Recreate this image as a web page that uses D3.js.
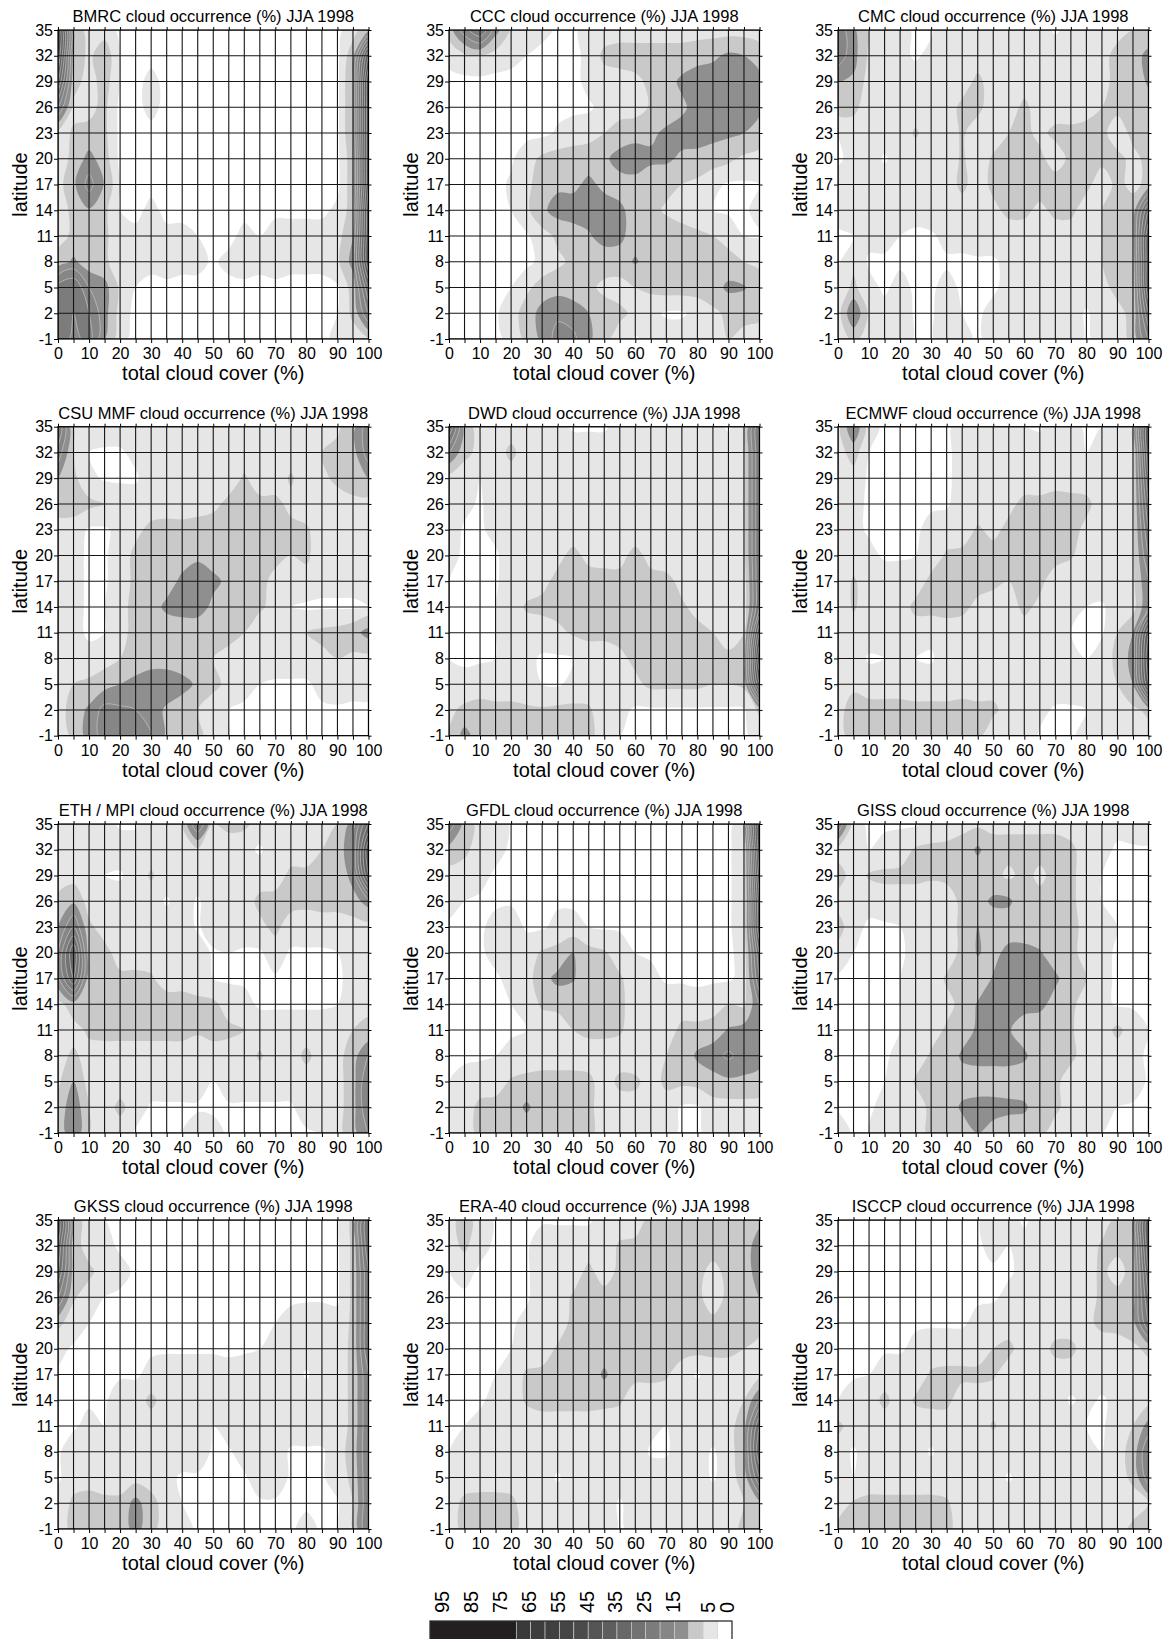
<!DOCTYPE html>
<html>
<head>
<meta charset="utf-8">
<script src="https://cdnjs.cloudflare.com/ajax/libs/d3/7.8.5/d3.min.js"></script>
<style>
body { margin: 0; background: #fff; }
</style>
</head>
<body>
<script>
//Grid of the histograms: total cloud cover (x) and latitude (y, top row first)
var cloudCover = [0, 5, 10, 15, 20, 25, 30, 35, 40, 45, 50, 55, 60, 65, 70, 75, 80, 85, 90, 95, 100];
var latitudes = [35, 32, 29, 26, 23, 20, 17, 14, 11, 8, 5, 2, -1];
var xTickLabels = [0, 10, 20, 30, 40, 50, 60, 70, 80, 90, 100];

var models = ["BMRC", "CCC", "CMC", "CSU MMF", "DWD", "ECMWF", "ETH / MPI", "GFDL", "GISS", "GKSS", "ERA-40", "ISCCP"];

//Contour levels (%) and the shade used above each of them
var levels = [1, 5, 10, 15, 20, 25, 30, 35, 40, 45, 50, 55, 60, 65, 70];
var levelColors = ["#ffffff", "#e6e6e6", "#c9c9c9", "#8f8f8f", "#868686", "#7c7c7c", "#727272", "#686868",
	"#5e5e5e", "#555555", "#4b4b4b", "#454545", "#404040", "#3d3d3d", "#3a3a3a", "#231f20"];
var barLabels = [95, 85, 75, 65, 55, 45, 35, 25, 15, 5, 0];

//Cloud occurrence (%), rows from 35 down to -1
var bmrc = [
	[45, 8, 3, 3, 0, 0, 0, 0, 0, 0, 0, 0, 0, 0, 0, 0, 0, 0, 0, 3, 8],
	[45, 8, 4, 8, 1, 0, 0, 0, 0, 0, 0, 0, 0, 0, 0, 0, 0, 0, 0, 8, 40],
	[35, 7, 3, 7, 1, 0, 2, 0, 0, 0, 0, 0, 0, 0, 0, 0, 0, 0, 0, 10, 50],
	[20, 4, 4, 6, 0, 0, 2, 0, 0, 0, 0, 0, 0, 0, 0, 0, 0, 0, 0, 10, 50],
	[3, 5.5, 6, 6, 0, 0, 0, 0, 0, 0, 0, 0, 0, 0, 0, 0, 0, 0, 0, 10, 50],
	[3, 6, 12, 7, 0, 0, 0, 0, 0, 0, 0, 0, 0, 0, 0, 0, 0, 0, 0, 8, 50],
	[3, 9, 17, 9.5, 1, 0, 0, 0, 0, 0, 0, 0, 0, 0, 0, 0, 0, 0, 0, 8, 50],
	[3, 6, 9.5, 6, 1, 0, 2, 0, 0, 0, 0, 0, 0, 0, 0, 0, 0, 0, 2, 7, 45],
	[3, 6, 7, 6, 2, 2, 3, 2, 2, 1, 0, 0, 2, 1, 3, 3, 3, 3, 3, 10, 45],
	[7, 11, 7, 6, 2, 1, 2, 3, 2, 2, 0.5, 2, 3, 2, 3, 2, 2, 2, 4, 12, 45],
	[22, 25, 15, 12, 4, 1, 0, 0, 0, 0, 0, 0, 0, 0, 0, 0, 0, 0, 0.5, 7, 30],
	[25, 20, 20, 12, 3, 0, 0, 0, 0, 0, 0, 0, 0, 0, 0, 0, 0, 0, 1, 6, 20],
	[25, 18, 22, 10, 2, 0, 0, 0, 0, 0, 0, 0, 0, 0, 0, 0, 0, 0, 2, 3, 4]
];
var ccc = [
	[7, 18, 25, 12, 4, 2, 2, 0.5, 0.5, 2, 3, 3, 3, 3, 3, 3, 3, 3, 3, 3, 3],
	[2, 4, 5, 3, 2, 1, 0, 0, 0, 2, 6, 7, 7, 7, 7, 7, 8, 9, 11, 10, 7],
	[0, 0, 0, 0, 0, 0, 0, 0, 0, 2, 3, 3, 4, 6, 8, 11, 13, 13, 13, 13, 12],
	[0, 0, 0, 0, 0, 0, 0, 0, 0, 0.5, 2, 3, 3, 5.5, 7, 9, 12, 13, 12, 12, 11],
	[0, 0, 0, 0, 0, 0, 0, 1.5, 3, 3, 5, 7, 8, 9, 11, 12, 13, 12, 11, 10, 8],
	[0, 0, 0, 0, 0.5, 3, 6, 7, 7, 8, 9, 12, 13, 11, 11, 9, 8, 7, 6, 4, 3],
	[0, 0, 0, 0, 1.5, 4, 7, 9, 9, 11, 9, 8, 8, 7, 6, 5, 4, 2, 0.5, 0.5, 1],
	[0, 0, 0, 0, 1, 4, 9, 12, 12, 12, 12, 11, 8, 6, 4.5, 3, 2, 1, 0.5, 0.5, 2],
	[0, 0, 0, 0, 0, 0.5, 3, 6, 8, 9.5, 12, 11, 8, 7, 7, 7, 6, 5, 3, 1, 0.5],
	[0, 0, 0, 0, 0, 0, 2, 4, 6, 7, 7, 8, 10.5, 8, 8, 8, 8, 8, 7, 5, 4],
	[0, 0, 0, 0, 1, 4, 7, 8, 7, 6, 4, 3, 5, 6, 7, 7, 7, 8, 11, 10.5, 7],
	[0, 0, 0, 0.5, 3, 7, 12, 14, 13, 10, 7, 6, 4, 2, 0.5, 0.5, 2, 4, 6, 6, 6],
	[0, 0, 0, 0, 2, 6, 11, 17, 16, 11, 6, 3, 0.5, 2, 3, 3, 3, 4, 5, 4, 3]
];
var cmc = [
	[18, 11, 4, 3, 2, 0.5, 0.5, 3, 3, 2, 2, 3, 3, 2, 0.5, 2, 3, 3, 4, 5, 5],
	[18, 12, 4, 3, 2, 0.5, 2, 3, 3, 3, 2.5, 3, 3, 3, 3, 3, 3, 4, 6, 7, 12],
	[10, 9, 3, 3, 3, 3, 3, 3, 3, 6, 3, 3, 3, 3, 3, 3, 3, 4, 6, 6, 11],
	[7, 6, 3, 3, 3, 3, 3, 3, 6, 6, 3, 3, 6, 3, 3, 3, 4, 5, 6, 6, 7],
	[1, 3, 3, 3, 3, 5.5, 3, 3, 5.5, 3, 3, 5, 6, 4, 6, 6, 6, 6, 3, 6, 7],
	[0.5, 2, 3, 0.5, 3, 3, 3, 3, 5.5, 3, 5.5, 6, 6, 6, 3, 6, 6, 6, 6, 4, 6],
	[2, 3, 3, 3, 3, 3, 3, 3, 6, 3, 6, 7, 7, 7, 7, 6, 6, 3, 6, 4, 6],
	[2, 3, 3, 2, 3, 2, 3, 3, 3, 3, 4, 6, 6, 4, 6, 6, 3, 5, 6, 7, 30],
	[0.5, 1, 2, 2, 1, 0.5, 0.5, 2, 2, 3, 3, 3, 3, 3, 3, 3, 3, 5, 6, 8, 40],
	[0.5, 4, 0.5, 0.5, 0.5, 0.5, 0.5, 0.5, 0.5, 0.5, 0.5, 2, 3, 3, 3, 3, 3, 5, 6, 7, 40],
	[2, 6, 2, 0.5, 2, 0.5, 0.5, 2, 0.5, 0.5, 0.5, 2, 3, 3, 3, 3, 3, 4, 6, 6, 40],
	[3, 15, 4, 2, 3, 0.5, 0.5, 3, 1, 0.5, 2, 3, 3, 3, 3, 3, 0.5, 3, 4, 6, 30],
	[2, 6, 3, 2, 3, 0.5, 0.5, 3, 2, 0.5, 2, 3, 3, 3, 3, 3, 0.5, 2, 3, 6, 20]
];
var csu = [
	[25, 4, 3, 3, 3, 3, 1, 3, 3, 3, 3, 3, 3, 3, 3, 3, 3, 3, 4, 8, 18],
	[18, 5, 1, 0.5, 0.5, 2, 3, 3, 3, 3, 3, 3, 3, 3, 3, 3, 3, 5, 6.5, 8, 18],
	[10, 6, 2, 0.5, 0.5, 0.5, 3, 3, 3, 3, 1, 3, 5.5, 3, 3, 5.5, 3, 4, 6, 7, 10],
	[7, 7, 6, 5, 3, 3, 3, 3, 2, 3, 4, 6, 6, 6, 6, 4, 3, 3, 3, 4, 3],
	[3, 3, 0.5, 0.5, 2, 4, 6, 6.5, 7, 7, 7, 7, 7, 6.5, 6.5, 6, 5.5, 3, 3, 3, 3],
	[3, 2, 0.5, 0.5, 3, 6, 7, 7, 8, 9, 8, 7, 7, 6, 6, 5, 6, 2, 1, 1, 2],
	[3, 2, 0.5, 0.5, 3, 6, 7, 8, 11, 13, 11, 9, 7, 6, 4, 3, 3, 2, 2, 2, 3],
	[3, 2, 0.5, 1, 4, 6, 8, 11, 12, 12, 9, 7, 6, 5.5, 4, 1, 0.5, 0.5, 0.5, 0.5, 1],
	[3, 2, 0.5, 1, 4, 6, 7, 7, 7, 7, 6.5, 6, 5, 3, 3, 4, 5, 6, 6.5, 8, 12],
	[3, 3, 2, 3, 5, 6, 7, 7, 6.5, 6, 5, 4, 3, 3, 3, 3, 3, 4, 5, 4, 3],
	[3, 5, 6, 8, 10, 12, 14, 14, 12, 9, 6, 4, 2, 1, 0.5, 0.5, 0.5, 2, 3, 2, 2],
	[3, 7, 11, 17, 16, 15, 13, 9, 7, 5, 3, 1, 0.5, 0.5, 0.5, 0.5, 0.5, 0.5, 0.5, 0.5, 0.5],
	[2, 6, 12, 17, 18, 17, 15, 9, 7, 6, 3, 1, 0.5, 0.5, 0.5, 0.5, 0.5, 0.5, 0.5, 0.5, 0.5]
];
var dwd = [
	[30, 7, 3, 3, 3, 3, 3, 2, 0.5, 0.5, 0.5, 2, 3, 3, 3, 3, 3, 2, 0.5, 3, 25],
	[15, 7, 3, 3, 6, 3, 3, 3, 3, 3, 3, 3, 3, 3, 3, 3, 3, 3, 3, 4, 25],
	[3, 1, 1, 3, 3, 3, 3, 3, 3, 3, 3, 3, 3, 3, 3, 3, 3, 3, 3, 4, 25],
	[3, 2, 0.5, 3, 3, 3, 3, 3, 3, 3, 3, 3, 3, 3, 3, 3, 3, 3, 3, 4, 25],
	[3, 0.5, 0.5, 2, 3, 3, 3, 3, 3, 3, 3, 3, 3, 3, 3, 3, 3, 3, 3, 4, 25],
	[2, 0.5, 0.5, 0.5, 3, 3, 3, 4, 6, 4, 4, 4, 6, 4, 3, 3, 3, 3, 3, 4, 25],
	[1, 0.5, 0.5, 0.5, 3, 3, 4, 6, 6.5, 6.5, 6, 6, 6.5, 6, 6, 4, 3, 3, 1, 2, 25],
	[1, 0.5, 0.5, 1, 3, 5.5, 6, 6.5, 7, 7, 7, 7, 7, 6.5, 6, 5.5, 4, 3, 1, 2, 25],
	[1, 0.5, 0.5, 1, 3, 3, 3, 4, 5.5, 6, 6, 6.5, 7, 7, 7, 6.5, 6, 5, 3, 5, 40],
	[1, 0.5, 0.5, 1, 3, 2, 0.5, 0.5, 1, 3, 3, 4, 6, 6.5, 7, 7, 7, 6.5, 6, 7, 50],
	[2, 2, 3, 3, 3, 3, 1, 0.5, 2, 3, 3, 3, 4, 6, 6, 6, 6, 5, 5, 6, 40],
	[4, 6, 6.5, 6, 6, 5.5, 5.5, 6, 6, 5.5, 3, 2, 0.5, 0.5, 0.5, 0.5, 0.5, 0.5, 0.5, 0.5, 6],
	[5, 12, 7, 6.5, 6.5, 6.5, 6.5, 6.5, 6.5, 6, 3, 1, 0.5, 0.5, 0.5, 0.5, 0.5, 0.5, 0.5, 0.5, 2]
];
var ecmwf = [
	[3, 15, 2, 0.5, 0.5, 0.5, 0.5, 0.5, 2, 3, 3, 3, 1, 0.5, 3, 2, 0.5, 1, 3, 4, 40],
	[3, 7, 1, 0.5, 0.5, 0.5, 0.5, 0.5, 2, 3, 3, 3, 3, 3, 2, 1, 1, 2, 3, 4, 40],
	[2, 3, 0.5, 0.5, 0.5, 0.5, 0.5, 0.5, 2, 1, 3, 3, 3, 3, 3, 3, 3, 3, 3, 4, 35],
	[2, 2, 0.5, 0.5, 0.5, 0.5, 0.5, 0.5, 3, 3, 3, 4, 6, 6, 7, 6.5, 6, 3, 3, 4, 30],
	[2, 2, 0.5, 0.5, 0.5, 0.5, 2, 3, 3, 5.5, 4, 6, 6.5, 6.5, 6.5, 6.5, 4, 3, 3, 4, 25],
	[2, 3, 2, 0.5, 0.5, 1, 3, 5.5, 6, 6.5, 6.5, 6.5, 6, 6, 6.5, 5.5, 3, 3, 3, 4, 20],
	[2, 5.5, 3, 3, 3, 3, 6, 6.5, 6.5, 6.5, 6, 5, 6, 6, 3, 2, 3, 3, 3, 4, 15],
	[2, 5.5, 3, 3, 3, 6, 6.5, 6.5, 6, 4, 3, 3, 6, 4, 3, 3, 1, 0.5, 3, 3, 15],
	[2, 3, 3, 3, 3, 3, 2, 3, 3, 3, 3, 3, 3, 3, 3, 1, 0.5, 0.5, 5, 10, 40],
	[2, 3, 0.5, 1, 3, 1, 0.5, 3, 3, 3, 3, 3, 3, 3, 3, 2, 1, 3, 6, 12, 45],
	[2, 3, 3, 3, 3, 3, 3, 3, 3, 3, 3, 3, 3, 3, 3, 3, 3, 3, 5, 10, 40],
	[2, 9, 6.5, 6.5, 6.5, 6, 6, 6, 6.5, 6, 6, 3, 3, 2, 0.5, 0.5, 1, 3, 3, 4, 6],
	[3, 7, 6.5, 6.5, 6.5, 6, 6, 6.5, 6.5, 6, 2, 4, 3, 0.5, 0.5, 0.5, 2, 3, 3, 3, 3]
];
var ethMpi = [
	[3, 3, 3, 2, 0.5, 0.5, 3, 3, 5, 20, 5, 6, 6, 3, 3, 3, 3, 3, 5, 12, 30],
	[3, 3, 3, 3, 3, 3, 3, 3, 3, 4, 3, 3, 2, 0.5, 3, 3, 3, 5, 6.5, 15, 45],
	[3, 3, 3, 1, 0.5, 3, 5.5, 3, 3, 3, 3, 3, 3, 3, 3, 6, 6, 6, 6, 12, 40],
	[6, 9, 3, 2, 3, 3, 3, 0.5, 3, 0.5, 3, 3, 3, 6, 6.5, 6.5, 6, 6.5, 6.5, 8, 12],
	[10, 20, 6, 3, 3, 3, 3, 3, 3, 0.5, 3, 3, 3, 4, 6, 3, 3, 3, 3, 3, 3],
	[15, 35, 7, 6.5, 3, 3, 3, 3, 3, 3, 0.5, 1, 0.5, 0.5, 3, 0.5, 0.5, 0.5, 1, 3, 3],
	[14, 30, 7, 6.5, 6, 6, 5.5, 3, 3, 3, 1, 0.5, 0.5, 0.5, 0.5, 0.5, 0.5, 0.5, 0.5, 2, 3],
	[3, 8, 6.5, 7, 6.5, 6.5, 6.5, 7, 7, 6, 6, 3, 2, 0.5, 0.5, 0.5, 0.5, 0.5, 1, 3, 4],
	[2, 3, 6, 6.5, 6.5, 6.5, 6.5, 6.5, 6.5, 5.5, 6.5, 6, 5, 3, 3, 3, 3, 3, 3, 5, 6],
	[3, 6, 3, 3, 3, 3, 3, 3, 3, 3, 3, 3, 3, 5.5, 3, 3, 6, 3, 3, 8, 15],
	[4, 10, 3, 3, 3, 3, 3, 3, 3, 3, 1, 3, 3, 3, 3, 3, 3, 3, 3, 8, 20],
	[6, 14, 5, 3, 6, 3, 0.5, 0.5, 0.5, 0.5, 0.5, 0.5, 0.5, 0.5, 0.5, 0.5, 3, 2, 3, 8, 20],
	[6, 14, 5, 3, 3, 0.5, 0.5, 0.5, 1, 3, 2, 0.5, 0.5, 0.5, 0.5, 0.5, 0.5, 1, 3, 8, 15]
];
var gfdl = [
	[18, 8, 3, 3, 0.5, 0.5, 0.5, 0.5, 0.5, 0.5, 0.5, 0.5, 0.5, 0.5, 0.5, 0.5, 0.5, 0.5, 0.5, 2, 50],
	[8, 6, 3, 2, 0.5, 0.5, 0.5, 0.5, 0.5, 0.5, 0.5, 0.5, 0.5, 0.5, 0.5, 0.5, 0.5, 0.5, 0.5, 3, 50],
	[3, 3, 2, 0.5, 0.5, 0.5, 0.5, 0.5, 0.5, 0.5, 0.5, 0.5, 0.5, 0.5, 0.5, 0.5, 0.5, 0.5, 0.5, 3, 45],
	[2, 1, 0.5, 0.5, 0.5, 0.5, 0.5, 0.5, 0.5, 0.5, 0.5, 0.5, 0.5, 0.5, 0.5, 0.5, 0.5, 0.5, 0.5, 3, 40],
	[0.5, 0.5, 0.5, 2, 3, 0.5, 0.5, 2, 2, 1, 0.5, 0.5, 0.5, 0.5, 0.5, 0.5, 0.5, 0.5, 0.5, 3, 40],
	[0.5, 0.5, 0.5, 2, 3, 3, 5.5, 6.5, 10, 6.5, 5.5, 3, 1, 0.5, 0.5, 0.5, 0.5, 0.5, 0.5, 2, 30],
	[0.5, 0.5, 0.5, 0.5, 2, 3, 8, 11.5, 10.5, 6.5, 6, 5.5, 3, 2, 0.5, 0.5, 0.5, 0.5, 0.5, 2, 25],
	[0.5, 0.5, 0.5, 0.5, 1, 3, 5.5, 6, 6.5, 6.5, 6.5, 6, 3, 3, 3, 3, 2, 3, 5, 4, 15],
	[0.5, 0.5, 0.5, 0.5, 0.5, 1, 3, 3, 5, 6, 6, 5.5, 3, 3, 3, 6, 6.5, 7, 10.5, 12, 12],
	[0.5, 0.5, 0.5, 1, 2, 3, 3, 3, 3, 3, 3, 3, 2, 3, 5, 6, 11, 13, 16, 13, 12],
	[1, 2, 3, 3, 5.5, 6, 6.5, 6.5, 6.5, 6, 3, 6, 6, 3, 6, 6, 6.5, 8, 9, 9, 8],
	[2, 3, 6, 6.5, 7, 11, 7, 6.5, 6.5, 6, 3, 3, 3, 3, 3, 0.5, 0.5, 3, 3, 3, 3],
	[3, 3, 6, 6.5, 6.5, 6.5, 6.5, 6.5, 6.5, 6, 3, 2, 3, 3, 2, 0.5, 0.5, 2, 3, 3, 3]
];
var giss = [
	[20, 2, 0.5, 0.5, 0.5, 0.5, 2, 3, 4, 4, 4, 4, 4, 4, 4, 3, 3, 3, 2, 3, 3],
	[3, 2, 1, 2, 3, 5.5, 6, 6, 6.5, 11, 6.5, 6.5, 6.5, 6.5, 6.5, 6, 3, 2, 0.5, 0.5, 0.5],
	[7, 3, 5.5, 6, 6, 6, 5.5, 6, 6.5, 6.5, 6.5, 4, 6.5, 4, 6.5, 6, 3, 1, 0.5, 0.5, 0.5],
	[3, 2, 2, 3, 3, 3, 3, 3, 6, 8, 11, 11, 6.5, 6.5, 6.5, 6, 3, 1, 0.5, 0.5, 0.5],
	[7, 2, 0.5, 0.5, 1, 2, 3, 3, 6, 10.2, 6.5, 6.5, 6.5, 6.5, 6.5, 6, 4, 3, 1, 0.5, 0.5],
	[3, 1, 0.5, 0.5, 0.5, 2, 3, 3, 6, 10.5, 8, 12, 12, 10.5, 7, 6.5, 3, 2, 0.5, 0.5, 0.5],
	[0.5, 0.5, 0.5, 0.5, 1, 3, 3, 5.5, 6, 6.5, 10.5, 12, 12, 11, 11, 7, 5, 2, 0.5, 0.5, 0.5],
	[0.5, 0.5, 0.5, 0.5, 1, 3, 3, 4, 6, 10.5, 12, 12, 12, 11.5, 8, 6, 3, 2, 0.5, 0.5, 0.5],
	[0.5, 0.5, 0.5, 0.5, 1, 3, 3.5, 5.5, 7, 11, 12, 10.5, 7, 6.5, 6.5, 5.5, 3, 3, 6, 3, 1],
	[0.5, 0.5, 0.5, 0.5, 2, 3, 5.5, 6, 11, 12, 12, 12, 11, 6.5, 6.5, 6, 3, 3, 3, 2, 0.5],
	[0.5, 0.5, 0.5, 1, 2, 5.5, 6, 6.5, 7, 7, 7, 7, 6.5, 6.5, 6, 3, 3, 3, 3, 3, 0.5],
	[0.5, 0.5, 0.5, 2, 3, 3, 6, 6.5, 11, 12, 12, 11.5, 11, 6.5, 6, 3, 3, 2, 1, 0.5, 0.5],
	[3, 0.5, 1, 3, 3, 3, 6, 6.5, 7, 10, 8, 6.5, 6.5, 6, 3, 3, 3, 1, 0.5, 0.5, 0.5]
];
var gkss = [
	[40, 7, 3, 1, 0.5, 0.5, 0.5, 0.5, 0.5, 0.5, 0.5, 0.5, 0.5, 0.5, 0.5, 0.5, 0.5, 0.5, 0.5, 6, 30],
	[35, 7, 3, 2, 0.5, 0.5, 0.5, 0.5, 0.5, 0.5, 0.5, 0.5, 0.5, 0.5, 0.5, 0.5, 0.5, 0.5, 0.5, 6, 30],
	[30, 8, 6, 3, 2, 0.5, 0.5, 0.5, 0.5, 0.5, 0.5, 0.5, 0.5, 0.5, 0.5, 0.5, 0.5, 0.5, 0.5, 6, 25],
	[20, 5.5, 3, 1, 0.5, 0.5, 0.5, 0.5, 0.5, 0.5, 0.5, 0.5, 0.5, 0.5, 0.5, 0.5, 0.5, 0.5, 0.5, 6, 25],
	[6, 3, 1, 0.5, 0.5, 0.5, 0.5, 0.5, 0.5, 0.5, 0.5, 0.5, 0.5, 0.5, 1, 2, 3, 3, 2, 6, 25],
	[2, 0.5, 0.5, 0.5, 0.5, 0.5, 0.5, 0.5, 0.5, 0.5, 0.5, 0.5, 0.5, 1, 2, 3, 3, 3, 3, 6, 25],
	[0.5, 0.5, 0.5, 0.5, 0.5, 0.5, 2, 3, 3, 3, 3, 2, 3, 3, 3, 3, 0.5, 3, 3, 6, 20],
	[0.5, 0.5, 0.5, 0.5, 3, 3, 6, 3, 3, 3, 3, 3, 3, 3, 3, 3, 3, 3, 3, 6, 20],
	[0.5, 0.5, 2, 1, 3, 3, 3, 3, 3, 3, 1, 3, 3, 3, 3, 3, 3, 3, 3, 6, 20],
	[0.5, 3, 3, 2, 3, 3, 3, 3, 3, 3, 0.5, 0.5, 3, 1, 3, 0.5, 0.5, 0.5, 3, 7, 20],
	[0.5, 3, 3, 3, 3, 3, 3, 2, 0.5, 0.5, 0.5, 0.5, 0.5, 3, 3, 0.5, 0.5, 0.5, 3, 6, 20],
	[2, 6, 7, 6, 6, 12, 6.5, 3, 1, 0.5, 0.5, 0.5, 0.5, 0.5, 0.5, 0.5, 0.5, 0.5, 0.5, 5, 20],
	[3, 6, 6.5, 6.5, 6.5, 12, 6, 3, 2, 0.5, 0.5, 0.5, 0.5, 0.5, 0.5, 0.5, 2, 0.5, 0.5, 5, 20]
];
var era40 = [
	[3, 7, 3, 0.5, 0.5, 0.5, 0.5, 0.5, 0.5, 0.5, 2, 3, 3, 6, 6.5, 6.5, 6, 6.5, 6.5, 7, 9],
	[3, 6, 2, 0.5, 0.5, 0.5, 3, 3, 3, 3, 3, 5.5, 6, 6.5, 6.5, 6.5, 6.5, 6.5, 6.5, 8, 12],
	[1, 2, 0.5, 0.5, 0.5, 0.5, 3, 3, 3, 6, 3, 6, 6.5, 6.5, 6.5, 6.5, 6, 4, 6, 8, 12],
	[0.5, 0.5, 0.5, 0.5, 0.5, 0.5, 3, 3, 5.5, 6.5, 6.5, 6.5, 6.5, 6.5, 6.5, 6.5, 6, 3, 6, 7, 10],
	[0.5, 0.5, 0.5, 0.5, 0.5, 2, 3, 3, 6, 6.5, 6.5, 6.5, 6.5, 6.5, 6.5, 6.5, 6.5, 6, 6, 6, 6],
	[0.5, 0.5, 0.5, 0.5, 1, 3, 3, 5.5, 6.5, 7, 7, 6.5, 6.5, 6.5, 6.5, 6.5, 6.5, 6, 6, 5, 4],
	[0.5, 0.5, 0.5, 1, 3, 5.5, 6, 6.5, 6.5, 6.5, 11, 6.5, 6, 6, 5.5, 3, 0.5, 3, 3, 3, 3],
	[0.5, 0.5, 0.5, 2, 3, 5.5, 6.5, 6.5, 6.5, 6.5, 6, 5.5, 3, 3, 3, 3, 3, 3, 3, 5, 15],
	[0.5, 1, 2, 3, 3, 3, 3, 3, 3, 3, 3, 3, 3, 2, 1, 3, 3, 3, 3, 8, 30],
	[1, 3, 3, 3, 3, 3, 3, 3, 3, 3, 3, 3, 3, 0.5, 0.5, 3, 3, 0.5, 3, 8, 35],
	[3, 3, 3, 3, 3, 3, 3, 0.5, 3, 3, 3, 3, 3, 3, 3, 3, 3, 0.5, 3, 7, 25],
	[3, 6, 6.5, 6.5, 6, 3, 3, 3, 3, 3, 3, 0.5, 3, 3, 3, 3, 3, 3, 3, 5, 8],
	[3, 6, 6.5, 6.5, 6.5, 3, 3, 3, 1, 3, 3, 0.5, 2, 3, 3, 3, 3, 3, 3, 6, 6]
];
var isccp = [
	[0.5, 0.5, 0.5, 0.5, 0.5, 0.5, 0.5, 0.5, 0.5, 0.5, 3, 2, 0.5, 2, 3, 3, 1, 3, 6, 7, 40],
	[0.5, 0.5, 0.5, 0.5, 0.5, 0.5, 0.5, 0.5, 0.5, 0.5, 2, 1, 2, 3, 3, 3, 3, 5.5, 6.5, 8, 40],
	[0.5, 0.5, 0.5, 0.5, 0.5, 0.5, 0.5, 0.5, 0.5, 0.5, 0.5, 0.5, 2, 3, 3, 3, 3, 6, 3, 7, 35],
	[0.5, 0.5, 0.5, 0.5, 0.5, 0.5, 0.5, 0.5, 0.5, 0.5, 0.5, 2, 3, 3, 3, 3, 3, 6, 6.5, 8, 30],
	[0.5, 0.5, 0.5, 0.5, 0.5, 0.5, 0.5, 0.5, 0.5, 2, 3, 3, 3, 3, 3, 3, 4, 6, 6.5, 8, 25],
	[0.5, 0.5, 0.5, 0.5, 0.5, 2, 3, 3, 3, 3, 5, 6, 3, 3, 6, 6, 3, 3, 3, 4, 6],
	[0.5, 0.5, 1, 3, 3, 3, 5.5, 6, 6, 6, 5.5, 3, 3, 3, 3, 3, 3, 3, 3, 3, 3],
	[1, 3, 3, 6, 3, 5.5, 6, 6, 3, 3, 3, 3, 3, 3, 3, 0.5, 2, 0.5, 2, 3, 3],
	[6, 3, 3, 3, 3, 3, 3, 3, 4, 3, 5.5, 3, 3, 3, 3, 3, 1, 0.5, 3, 5, 12],
	[3, 0.5, 3, 3, 3, 3, 0.5, 3, 3, 3, 2, 3, 3, 3, 3, 3, 3, 1, 3, 7, 20],
	[3, 1, 3, 3, 3, 3, 3, 3, 3, 3, 3, 0.5, 3, 3, 3, 3, 3, 1, 3, 6, 18],
	[3, 5.5, 6, 6, 6, 6, 6, 5.5, 3, 3, 3, 3, 3, 3, 3, 3, 3, 3, 2, 3, 5],
	[6, 6.5, 6.5, 6.5, 6.5, 6, 5, 6, 3, 3, 3, 3, 3, 1, 1, 3, 3, 3, 3, 6, 6]
];
var fields = [bmrc, ccc, cmc, csu, dwd, ecmwf, ethMpi, gfdl, giss, gkss, era40, isccp];

//Layout
var w = 1169, h = 1639;
var colLeft = [58, 449, 838];
var rowTop = [30, 426.7, 824, 1220];
var pw = 310.5, ph = 309;
var fontFamily = "'Liberation Sans', Arial, Helvetica, sans-serif";

var svg = d3.select("body")
	.append("svg")
	.attr("width", w)
	.attr("height", h)
	.style("font-family", fontFamily);

var nx = cloudCover.length, ny = latitudes.length;
//grid index -> data value
var ix = d3.scaleLinear().domain([0, nx - 1]).range([cloudCover[0], cloudCover[nx - 1]]);
var iy = d3.scaleLinear().domain([0, ny - 1]).range([latitudes[0], latitudes[ny - 1]]);
var smooth = d3.line().curve(d3.curveCatmullRomClosed.alpha(0.5));

function clamp(v, hi) { return Math.max(0, Math.min(hi, v)); }

fields.forEach(function(field, k) {
	var left = colLeft[k % 3], top = rowTop[Math.floor(k / 3)];
	var xScale = d3.scaleLinear().domain([0, 100]).range([left, left + pw]);
	var yScale = d3.scaleLinear().domain([-1, 35]).range([top + ph, top]);

	var bands = d3.contours()
		.size([nx, ny])
		.thresholds(levels)(d3.merge(field));

	var ringPath = function(ring) {
		var pts = [];
		ring.forEach(function(p) {
			var q = [xScale(ix(clamp(p[0] - 0.5, nx - 1))), yScale(iy(clamp(p[1] - 0.5, ny - 1)))];
			var last = pts[pts.length - 1];
			if (!last || Math.abs(last[0] - q[0]) > 0.05 || Math.abs(last[1] - q[1]) > 0.05) pts.push(q);
		});
		var a = pts[0], b = pts[pts.length - 1];
		if (pts.length > 2 && Math.abs(a[0] - b[0]) < 0.05 && Math.abs(a[1] - b[1]) < 0.05) pts.pop();
		return pts.length > 2 ? smooth(pts) : "";
	};
	var bandPath = function(d) {
		return d.coordinates.map(function(poly) { return poly.map(ringPath).join(""); }).join("");
	};

	svg.append("clipPath")
		.attr("id", "clip" + k)
		.append("rect")
		.attr("x", left).attr("y", top)
		.attr("width", pw).attr("height", ph);

	var plot = svg.append("g").attr("clip-path", "url(#clip" + k + ")");

	plot.append("rect")
		.attr("x", left).attr("y", top)
		.attr("width", pw).attr("height", ph)
		.attr("fill", levelColors[0]);

	plot.selectAll("path.band")
		.data(bands)
		.enter()
		.append("path")
		.attr("class", "band")
		.attr("d", bandPath)
		.attr("fill", function(d, i) { return levelColors[i + 1]; });

	//thin contour lines inside the darker shades
	plot.selectAll("path.iso")
		.data(bands.filter(function(d) { return d.value >= 15; }))
		.enter()
		.append("path")
		.attr("class", "iso")
		.attr("d", bandPath)
		.attr("fill", "none")
		.attr("stroke", "#d2d2d2")
		.attr("stroke-width", 0.6);

	//grid
	plot.selectAll("line.vx")
		.data(cloudCover)
		.enter()
		.append("line")
		.attr("x1", function(d) { return xScale(d); })
		.attr("x2", function(d) { return xScale(d); })
		.attr("y1", top).attr("y2", top + ph)
		.attr("stroke", "#151515")
		.attr("stroke-width", 1.1);
	plot.selectAll("line.hy")
		.data(latitudes)
		.enter()
		.append("line")
		.attr("y1", function(d) { return yScale(d); })
		.attr("y2", function(d) { return yScale(d); })
		.attr("x1", left).attr("x2", left + pw)
		.attr("stroke", "#151515")
		.attr("stroke-width", 1.1);

	svg.append("rect")
		.attr("x", left).attr("y", top)
		.attr("width", pw).attr("height", ph)
		.attr("fill", "none")
		.attr("stroke", "#000")
		.attr("stroke-width", 1.2);

	//axes
	var yAxis = d3.axisLeft(yScale)
		.tickValues(latitudes)
		.tickSizeInner(4).tickSizeOuter(0)
		.tickPadding(1)
		.tickFormat(function(d) { return String(d); });
	var gy = svg.append("g")
		.attr("transform", "translate(" + left + ",0)")
		.call(yAxis)
		.attr("font-size", 16)
		.attr("font-family", fontFamily);
	gy.select(".domain").remove();

	var xAxis = d3.axisBottom(xScale)
		.tickValues(cloudCover)
		.tickSizeInner(4).tickSizeOuter(0)
		.tickPadding(4.5)
		.tickFormat(function(d) { return xTickLabels.indexOf(d) >= 0 ? String(d) : ""; });
	var gx = svg.append("g")
		.attr("transform", "translate(0," + (top + ph) + ")")
		.call(xAxis)
		.attr("font-size", 16)
		.attr("font-family", fontFamily);
	gx.select(".domain").remove();

	var gt = svg.append("g")
		.attr("transform", "translate(0," + top + ")")
		.call(d3.axisTop(xScale).tickValues(cloudCover).tickSize(3).tickFormat(""));
	gt.select(".domain").remove();
	var gr = svg.append("g")
		.attr("transform", "translate(" + (left + pw) + ",0)")
		.call(d3.axisRight(yScale).tickValues(latitudes).tickSize(3).tickFormat(""));
	gr.select(".domain").remove();

	//labels
	svg.append("text")
		.attr("x", left + pw / 2)
		.attr("y", top - 8)
		.attr("text-anchor", "middle")
		.attr("font-size", 16.5)
		.text(models[k] + " cloud occurrence (%) JJA 1998");

	svg.append("text")
		.attr("x", left + pw / 2)
		.attr("y", top + ph + 41)
		.attr("text-anchor", "middle")
		.attr("font-size", 20)
		.text("total cloud cover (%)");

	svg.append("text")
		.attr("transform", "translate(" + (left - 31) + "," + (top + ph / 2) + ") rotate(-90)")
		.attr("text-anchor", "middle")
		.attr("font-size", 20)
		.text("latitude");
});

//Colour bar
var barColors = levelColors.slice().reverse();
var barUnits = barColors.map(function(c, i) { return i === 0 ? 6 : 1; });
var barStart = [];
barUnits.reduce(function(acc, u) { barStart.push(acc); return acc + u; }, 0);
var barScale = d3.scaleLinear().domain([0, d3.sum(barUnits)]).range([430, 732]);
var barTop = 1621;

svg.selectAll("rect.bar")
	.data(barColors)
	.enter()
	.append("rect")
	.attr("class", "bar")
	.attr("x", function(d, i) { return barScale(barStart[i]); })
	.attr("y", barTop)
	.attr("width", function(d, i) { return barScale(barStart[i] + barUnits[i]) - barScale(barStart[i]); })
	.attr("height", 30)
	.attr("fill", function(d) { return d; })
	.attr("stroke", "#d0d0d0")
	.attr("stroke-width", 0.6);

svg.append("rect")
	.attr("x", barScale(0))
	.attr("y", barTop)
	.attr("width", barScale(d3.sum(barUnits)) - barScale(0))
	.attr("height", 30)
	.attr("fill", "none")
	.attr("stroke", "#000")
	.attr("stroke-width", 1);

var labelScale = d3.scaleLinear().domain([95, 15, 5, 0]).range([442, 673, 708, 727]);
svg.selectAll("text.barlabel")
	.data(barLabels)
	.enter()
	.append("text")
	.attr("class", "barlabel")
	.attr("transform", function(d) { return "translate(" + labelScale(d) + ",1613) rotate(-90)"; })
	.attr("dy", "0.36em")
	.attr("font-size", 20)
	.text(function(d) { return d; });
</script>
</body>
</html>
